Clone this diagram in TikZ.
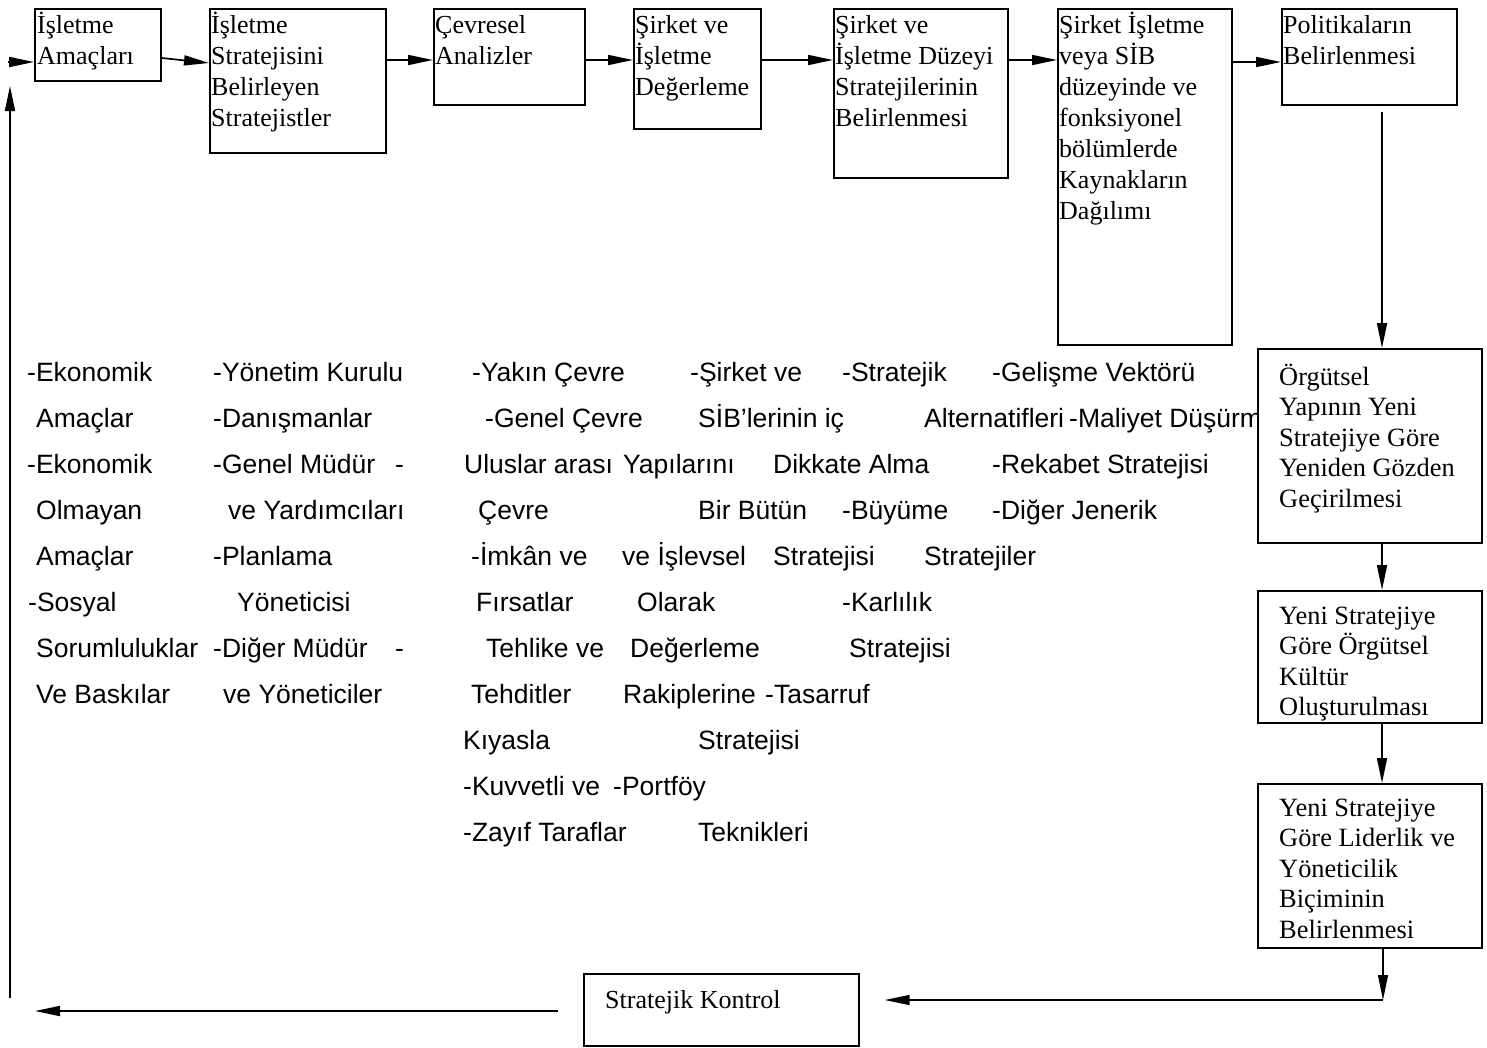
\documentclass[tikz,border=0pt]{standalone}
\usepackage{fontspec}
\setmainfont{Liberation Serif}
\newfontfamily\sansf{Liberation Sans}
\usetikzlibrary{arrows.meta}
\newcommand\mylines[1]{\vtop{\lineskiplimit=-\maxdimen\let\\\cr\halign{##\hfil\cr#1\crcr}}}
\begin{document}
\begin{tikzpicture}[x=1pt,y=-1pt,
  box/.style={draw, line width=1.7pt, inner sep=0pt, anchor=north west, fill=white},
  btxt/.style={anchor=base west, inner sep=0pt, font=\fontsize{26}{31}\selectfont},
  rtxt/.style={anchor=base west, inner sep=0pt, font=\fontsize{26.4}{30.6}\selectfont},
  ctxt/.style={anchor=base west, inner sep=0pt, font=\sansf\fontsize{26.5}{30}\selectfont},
  arr/.style={line width=1.7pt, -{Triangle[length=25pt,width=10pt]}},
]
\useasboundingbox (0,0) rectangle (1487,1047);

% column texts (drawn first, boxes on top)
\foreach \x/\n/\t [count=\k] in {
 27/1/-Ekonomik, 213/1/-Yönetim Kurulu, 472/1/-Yakın Çevre, 690/1/-Şirket ve, 842/1/-Stratejik, 992/1/-Gelişme Vektörü,
 36/2/Amaçlar, 213/2/-Danışmanlar, 485/2/-Genel Çevre, 698/2/SİB’lerinin iç, 924/2/Alternatifleri, 1069/2/-Maliyet Düşürme,
 27/3/-Ekonomik, 213/3/-Genel Müdür, 395/3/-, 464/3/Uluslar arası, 623/3/Yapılarını, 773/3/Dikkate Alma, 992/3/-Rekabet Stratejisi,
 36/4/Olmayan, 228/4/ve Yardımcıları, 478/4/Çevre, 698/4/Bir Bütün, 842/4/-Büyüme, 992/4/-Diğer Jenerik,
 36/5/Amaçlar, 213/5/-Planlama, 471/5/-İmkân ve, 622/5/ve İşlevsel, 773/5/Stratejisi, 924/5/Stratejiler,
 28/6/-Sosyal, 237/6/Yöneticisi, 476/6/Fırsatlar, 637/6/Olarak, 842/6/-Karlılık,
 36/7/Sorumluluklar, 213/7/-Diğer Müdür, 395/7/-, 486/7/Tehlike ve, 630/7/Değerleme, 849/7/Stratejisi,
 36/8/Ve Baskılar, 223/8/ve Yöneticiler, 471/8/Tehditler, 623/8/Rakiplerine, 765/8/-Tasarruf,
 463/9/Kıyasla, 698/9/Stratejisi,
 463/10/-Kuvvetli ve, 613/10/-Portföy,
 463/11/-Zayıf Taraflar, 698/11/Teknikleri}
 { \node[ctxt] (col\k) at (\x, {381+46*(\n-1)}) {\t}; }

% top row boxes
\node[box, minimum width=126pt, minimum height=72pt]  (b1) at (34,8) {};
\node[box, minimum width=176pt, minimum height=144pt] (b2) at (209,8) {};
\node[box, minimum width=151pt, minimum height=96pt]  (b3) at (433,8) {};
\node[box, minimum width=127pt, minimum height=120pt] (b4) at (633,8) {};
\node[box, minimum width=174pt, minimum height=169pt] (b5) at (833,8) {};
\node[box, minimum width=174pt, minimum height=336pt] (b6) at (1057,8) {};
\node[box, minimum width=175pt, minimum height=96pt]  (b7) at (1281,8) {};
% right column boxes
\node[box, minimum width=224pt, minimum height=194pt] (b8) at (1257,348) {};
\node[box, minimum width=224pt, minimum height=132pt] (b9) at (1257,590) {};
\node[box, minimum width=224pt, minimum height=164pt] (b10) at (1257,783) {};
% bottom box
\node[box, minimum width=275pt, minimum height=72pt] (sk) at (583,973) {};

% box texts
\node[btxt] (t1) at (37,33) {\mylines{İşletme\\Amaçları}};
\node[btxt] (t2) at (211,33) {\mylines{İşletme\\Stratejisini\\Belirleyen\\Stratejistler}};
\node[btxt] (t3) at (435,33) {\mylines{Çevresel\\Analizler}};
\node[btxt] (t4) at (635,33) {\mylines{Şirket ve\\İşletme\\Değerleme}};
\node[btxt] (t5) at (835,33) {\mylines{Şirket ve\\İşletme Düzeyi\\Stratejilerinin\\Belirlenmesi}};
\node[btxt] (t6) at (1059,33) {\mylines{Şirket İşletme\\veya SİB\\düzeyinde ve\\fonksiyonel\\bölümlerde\\Kaynakların\\Dağılımı}};
\node[btxt] (t7) at (1283,33) {\mylines{Politikaların\\Belirlenmesi}};
\node[rtxt] (t8) at (1279,385) {\mylines{Örgütsel\\Yapının Yeni\\Stratejiye Göre\\Yeniden Gözden\\Geçirilmesi}};
\node[rtxt] (t9) at (1279,624) {\mylines{Yeni Stratejiye\\Göre Örgütsel\\Kültür\\Oluşturulması}};
\node[rtxt] (t10) at (1279,816) {\mylines{Yeni Stratejiye\\Göre Liderlik ve\\Yöneticilik\\Biçiminin\\Belirlenmesi}};
\node[btxt, font=\fontsize{26}{30}\selectfont] (t11) at (605,1008) {Stratejik Kontrol};

% level coordinates
\coordinate (y58) at (0,58);
\coordinate (y63) at (0,63);
\coordinate (y60) at (0,60);
\coordinate (y62) at (0,62);
\coordinate (y1011) at (0,1011);
\coordinate (xr) at (1382,0);
\coordinate (c1) at (1383,1000);
\coordinate (c2) at (35,1011);
\coordinate (c3) at (10,998);
\coordinate (c4) at (10,86);
\coordinate (c5) at (8,62);

% top connectors
\draw[arr] (b1.east |- y58) -- (b2.west |- y63);
\draw[arr] (b2.east |- y60) -- (b3.west |- y60);
\draw[arr] (b3.east |- y60) -- (b4.west |- y60);
\draw[arr] (b4.east |- y60) -- (b5.west |- y60);
\draw[arr] (b5.east |- y60) -- (b6.west |- y60);
\draw[arr] (b6.east |- y62) -- (b7.west |- y62);
% right column
\draw[arr, shorten <=6pt] (b7.south -| xr) -- (b8.north -| xr);
\draw[arr] (b8.south -| xr) -- (b9.north -| xr);
\draw[arr] (b9.south -| xr) -- (b10.north -| xr);
\draw[arr, line width=1.2pt] (b10.south -| c1) -- (c1);
% bottom return
\draw[line width=1.7pt, -{Triangle[length=25pt,width=10pt]}, shorten >=25pt] (c1) -- (sk.east |- c1);
\draw[arr, shorten <=25pt] (sk.west |- y1011) -- (c2);
\draw[arr] (c3) -- (c4);
\draw[arr] (c5) -- (b1.west |- y62);
\end{tikzpicture}
\end{document}
